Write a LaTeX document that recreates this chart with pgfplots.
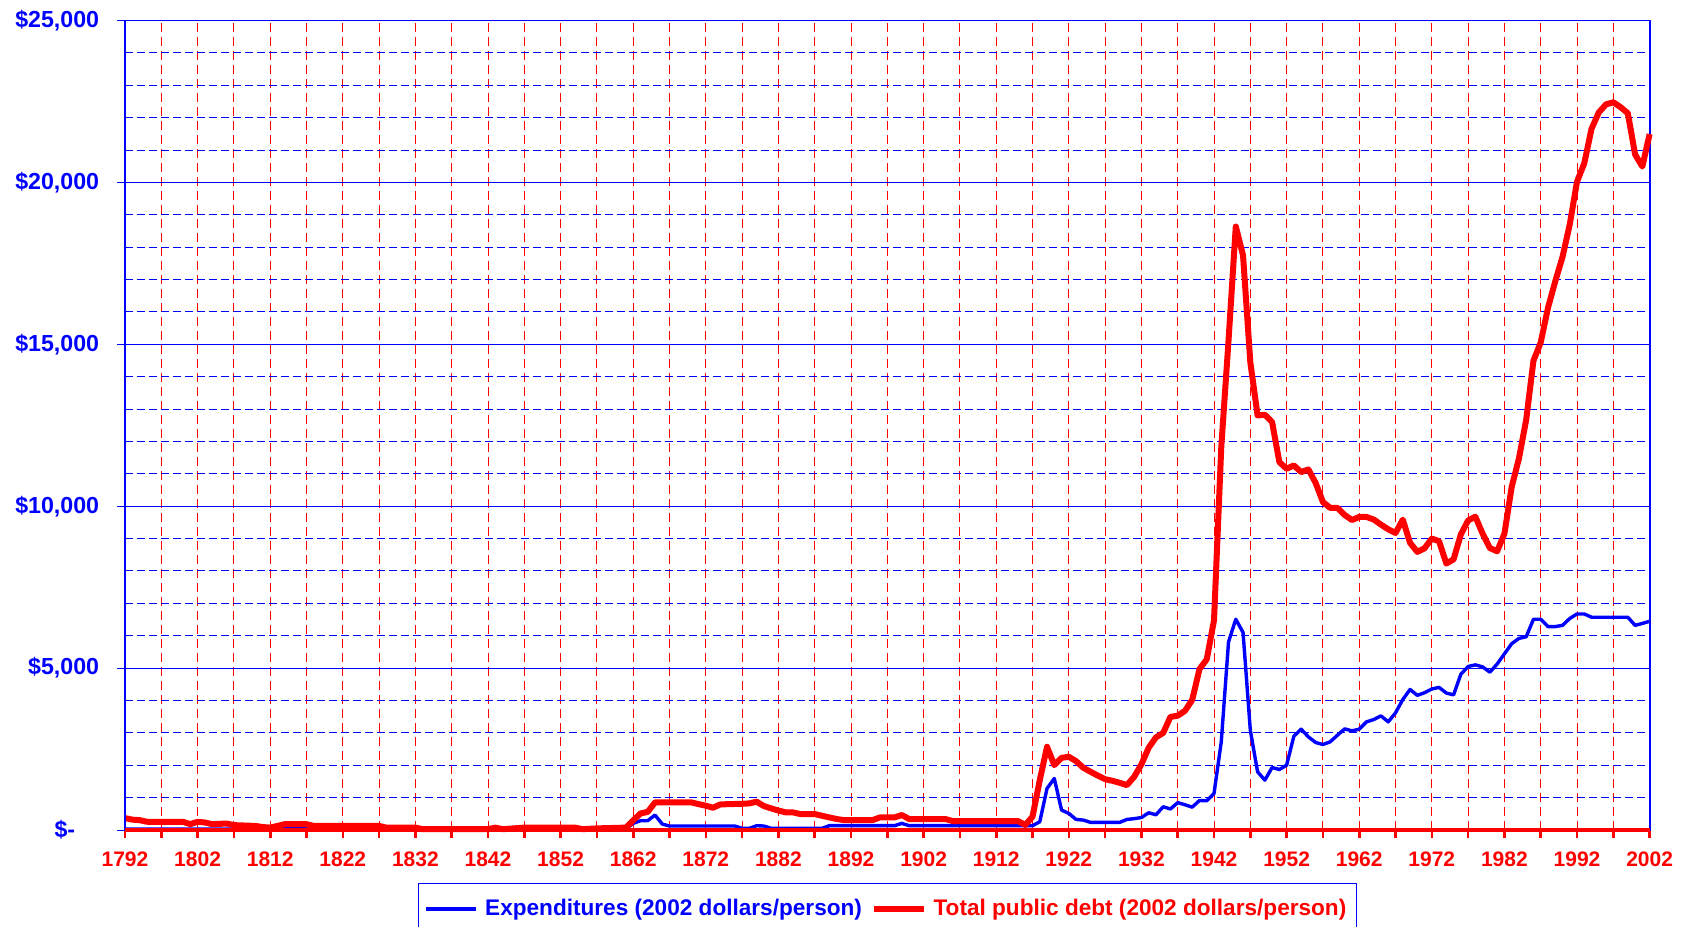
\documentclass[border=0pt]{standalone}
\usepackage{fontspec}
\setmainfont{Liberation Sans}
\usepackage{pgfplots}
\pgfplotsset{compat=1.18}
\begin{document}
\begin{tikzpicture}
\begin{axis}[
  at={(0pt,0pt)}, anchor=south west,
  scale only axis, width=762.3pt, height=404.7pt,
  xmin=1792, xmax=2002, ymin=0, ymax=25000,
  clip=false,
  xtick={1792,1802,...,2002},
  xticklabels={1792,1802,1812,1822,1832,1842,1852,1862,1872,1882,1892,1902,1912,1922,1932,1942,1952,1962,1972,1982,1992,2002},
  minor xtick={1797,1807,...,1997},
  ytick={0,5000,...,25000},
  yticklabels={{\$-\hspace*{12pt}},{\$5,000},{\$10,000},{\$15,000},{\$20,000},{\$25,000}},
  minor ytick={1000,2000,3000,4000,6000,7000,8000,9000,11000,12000,13000,14000,16000,17000,18000,19000,21000,22000,23000,24000},
  grid=both,
  every major x grid/.append style={red, line width=0.5pt, dash pattern=on 4.5pt off 2.5pt},
  every minor x grid/.append style={red, line width=0.5pt, dash pattern=on 4.5pt off 2.5pt},
  every major y grid/.append style={blue, line width=0.5pt, solid},
  every minor y grid/.append style={blue, line width=0.5pt, dash pattern=on 4pt off 2pt},
  tick align=outside, xtick pos=left, ytick pos=left,
  major tick length=4pt, minor tick length=4pt,
  x tick style={red, line width=1.3pt},
  minor x tick style={red, line width=1.3pt},
  y tick style={blue, line width=0.5pt},
  minor y tick style={draw=none},
  axis line style={blue, line width=0.9pt},
  xticklabel style={font=\fontsize{10.5}{12}\selectfont\bfseries, text=red, yshift=-3.2pt},
  yticklabel style={font=\fontsize{11.6}{13}\selectfont\bfseries, text=blue, xshift=-5.4pt},
  legend columns=2,
  legend image code/.code={\draw[#1] (0pt,0pt) -- (25pt,0pt);},
  legend style={at={(0.1923,0)}, anchor=north west, yshift=-26.5pt,
    draw=blue, line width=0.6pt, font=\fontsize{11.3}{13}\selectfont\bfseries,
    inner ysep=5.8pt,
    /tikz/every odd column/.append style={column sep=1.5pt},
    /tikz/every even column/.append style={column sep=2.3pt}},
]
\addplot[blue, line width=1.7pt, line join=round] coordinates {
(1792,25)(1812,25)(1813,40)(1814,60)(1816,60)(1817,30)(1832,30)(1833,60)(1835,40)(1836,60)(1840,60)(1841,35)(1845,35)(1846,55)(1849,55)(1850,40)(1857,40)(1861,35)(1862,205)(1863,287)(1864,287)(1865,462)(1866,184)(1867,123)(1876,123)(1877,51)(1878,51)(1879,133)(1880,123)(1881,51)(1888,51)(1889,133)(1898,133)(1899,205)(1900,133)(1917,133)(1918,254)(1919,1283)(1920,1592)(1921,615)(1922,512)(1923,326)(1924,306)(1925,234)(1929,234)(1930,326)(1931,350)(1932,385)(1933,532)(1934,470)(1935,717)(1936,650)(1937,845)(1938,780)(1939,705)(1940,912)(1941,902)(1942,1128)(1943,2723)(1944,5810)(1945,6510)(1946,6100)(1947,3083)(1948,1797)(1949,1540)(1950,1930)(1951,1869)(1952,2002)(1953,2898)(1954,3114)(1955,2877)(1956,2702)(1957,2641)(1958,2723)(1959,2928)(1960,3124)(1961,3062)(1962,3114)(1963,3340)(1964,3412)(1965,3525)(1966,3340)(1967,3618)(1968,4029)(1969,4340)(1970,4160)(1971,4240)(1972,4355)(1973,4405)(1974,4230)(1975,4175)(1976,4812)(1977,5050)(1978,5101)(1979,5038)(1980,4875)(1981,5126)(1982,5441)(1983,5755)(1984,5918)(1985,5969)(1986,6509)(1987,6509)(1988,6283)(1989,6283)(1990,6321)(1991,6534)(1992,6673)(1993,6673)(1994,6572)(1999,6572)(2000,6321)(2001,6380)(2002,6446)
};
\addlegendentry{\textcolor{blue}{Expenditures (2002 dollars/person)}}
\addplot[red, line width=3pt, line join=round] coordinates {
(1792,368)(1793,320)(1794,305)(1795,255)(1800,253)(1801,180)(1802,253)(1803,232)(1804,180)(1806,200)(1807,150)(1810,126)(1811,90)(1812,74)(1813,126)(1814,180)(1817,180)(1818,126)(1827,126)(1828,74)(1832,74)(1833,25)(1842,25)(1843,74)(1844,25)(1847,74)(1854,74)(1855,25)(1857,50)(1861,74)(1862,300)(1863,510)(1864,560)(1865,850)(1870,853)(1871,800)(1872,750)(1873,688)(1874,791)(1877,810)(1878,822)(1879,874)(1880,740)(1881,668)(1882,600)(1883,545)(1884,545)(1885,493)(1887,493)(1888,440)(1889,390)(1890,340)(1891,308)(1895,308)(1896,390)(1898,390)(1899,462)(1900,339)(1905,339)(1906,277)(1915,277)(1916,154)(1917,411)(1918,1540)(1919,2570)(1920,2004)(1921,2230)(1922,2261)(1923,2127)(1924,1921)(1925,1798)(1926,1680)(1927,1570)(1928,1520)(1929,1458)(1930,1386)(1931,1643)(1932,2030)(1933,2540)(1934,2860)(1935,3000)(1936,3494)(1937,3530)(1938,3680)(1939,4020)(1940,4970)(1941,5270)(1942,6478)(1943,11827)(1944,15120)(1945,18640)(1946,17744)(1947,14451)(1948,12805)(1949,12825)(1950,12599)(1951,11364)(1952,11158)(1953,11261)(1954,11055)(1955,11137)(1956,10720)(1957,10130)(1958,9950)(1959,9950)(1960,9730)(1961,9575)(1962,9668)(1963,9669)(1964,9590)(1965,9432)(1966,9288)(1967,9175)(1968,9586)(1969,8870)(1970,8590)(1971,8700)(1972,9000)(1973,8920)(1974,8230)(1975,8360)(1976,9130)(1977,9560)(1978,9677)(1979,9150)(1980,8709)(1981,8609)(1982,9150)(1983,10595)(1984,11476)(1985,12670)(1986,14493)(1987,15059)(1988,16127)(1989,16945)(1990,17699)(1991,18705)(1992,20025)(1993,20591)(1994,21660)(1995,22163)(1996,22414)(1997,22477)(1998,22326)(1999,22138)(2000,20868)(2001,20490)(2002,21496)
};
\addlegendentry{\textcolor{red}{Total public debt (2002 dollars/person)}}
\draw[blue, line width=1pt] (rel axis cs:0,0) -- (rel axis cs:0,1);
\draw[red, line width=2.3pt] (rel axis cs:0,0) -- (rel axis cs:1,0);
\end{axis}
\pgfresetboundingbox
\useasboundingbox (-62.5pt,-48pt) rectangle (779.5pt,415pt);
\end{tikzpicture}
\end{document}
